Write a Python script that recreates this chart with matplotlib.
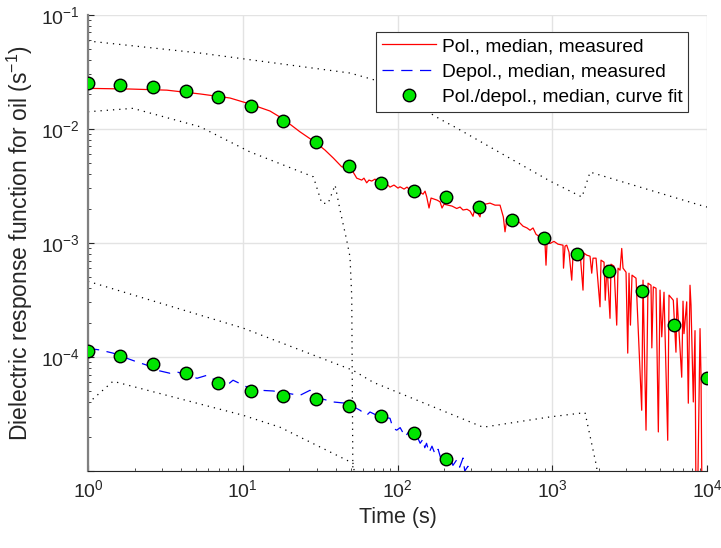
import numpy as np
import matplotlib.pyplot as plt
from matplotlib.lines import Line2D
from matplotlib.ticker import LogLocator, FuncFormatter, NullFormatter

plt.rcParams['font.family'] = ['Liberation Sans', 'DejaVu Sans']
plt.rcParams['mathtext.fontset'] = 'custom'
plt.rcParams['mathtext.rm'] = 'Liberation Sans'
plt.rcParams['mathtext.it'] = 'Liberation Sans:italic'

# curve fit points (same times for pol. and depol.)
fit_t = [1, 1.62, 2.64, 4.28, 6.95, 11.3, 18.3, 29.8, 48.3, 78.5,
         127, 207, 336, 546, 886, 1438, 2336, 3793, 6158, 10000]
pol_fit = [0.0254, 0.0243, 0.0232, 0.0216, 0.0190, 0.0159, 0.0117, 0.0076, 0.00473, 0.00336,
           0.00286, 0.0025, 0.00206, 0.00158, 0.00111, 0.000796, 0.000568, 0.000375, 0.000192, 6.6e-5]
depol_fit = [1.12e-4, 1.01e-4, 8.69e-5, 7.19e-5, 5.85e-5, 5.04e-5, 4.59e-5, 4.25e-5, 3.75e-5,
             3.03e-5, 2.17e-5, 1.27e-5]

# measured median, polarisation
pol_t = [1, 1.87, 3.23, 5.29, 8.27, 11.1, 15.0, 18.2, 23.4, 29.3, 34.0, 38.5, 43.6, 48.1, 50.8,
         54.5, 58.7, 60.7, 63.2, 65.4, 68.1, 71.6, 74.8, 77.1, 81.8, 85.5, 89.4, 94.9, 100.7,
         103.8, 110.2, 115.2, 120.4, 126, 133, 135.7, 139.8, 146.2, 150.6, 154.4, 159.8, 164.7,
         172.2, 180, 188.2, 193.9, 199.7, 212, 225, 241.3, 253.5, 265, 281.2, 294.1, 307.5, 312.2,
         326.4, 341.4, 350.2, 367.7, 396, 426.6, 459.5, 482.7, 495, 510, 549.5, 589.4, 618.9,
         647.1, 686.9, 718.3, 751, 785, 833.4, 875.4, 897.7, 911, 924.9, 967, 1026, 1089, 1173,
         1182, 1209, 1240, 1283, 1336, 1362, 1424, 1511, 1580, 1604, 1670, 1754, 1799, 1834,
         1918, 2035, 2065, 2160, 2200, 2258, 2361, 2397, 2506, 2609, 2660, 2741, 2811, 2866,
         2997, 3074, 3133, 3200, 3276, 3477, 3784, 3859, 4035, 4157, 4346, 4400, 4498, 4682,
         4846, 4971, 5100, 5274, 5572, 5681, 6056, 6300, 6400, 6863, 6997, 7100, 7392, 7570,
         7765, 7882, 8155, 8364, 8490, 8748, 9013, 9148, 9286]
pol_med = [0.0226, 0.0223, 0.0218, 0.0202, 0.0186, 0.0165, 0.0143, 0.0122, 0.00941, 0.00764,
           0.0065, 0.00553, 0.00464, 0.00457, 0.00434, 0.00369, 0.00355, 0.00369, 0.00336,
           0.00355, 0.00348, 0.00362, 0.00334, 0.00336, 0.00314, 0.00327, 0.00308, 0.00321,
           0.00302, 0.0031, 0.00296, 0.00308, 0.0029, 0.00302, 0.0028, 0.00296, 0.00278,
           0.00267, 0.00284, 0.00253, 0.00202, 0.00247, 0.00242, 0.00237, 0.00229, 0.00202,
           0.00218, 0.00214, 0.0021, 0.002, 0.00206, 0.00194, 0.00197, 0.0019, 0.00171, 0.00187,
           0.00186, 0.00169, 0.00222, 0.00218, 0.00223, 0.00214, 0.00214, 0.00169, 0.00125,
           0.00165, 0.00161, 0.00158, 0.00149, 0.0014, 0.00135, 0.00129, 0.00135, 0.00119,
           0.00112, 0.00106, 0.000988, 0.000637, 0.000994, 0.000988, 0.00103, 0.000974,
           0.000954, 0.0006, 0.000936, 0.000954, 0.000829, 0.000471, 0.00078, 0.000863,
           0.000829, 0.000385, 0.000812, 0.00078, 0.000764, 0.000542, 0.000734, 0.000734,
           0.000275, 0.000705, 0.000677, 0.000314, 0.000637, 0.000218, 0.00065, 0.000625,
           0.00019, 0.0006, 0.000576, 0.000893, 0.0006, 0.000553, 0.000108, 0.000542, 0.00019,
           0.000521, 0.00049, 3.41e-5, 0.000471, 2.28e-5, 0.000443, 0.000425, 0.00012, 0.000411,
           0.0004, 2.2e-5, 0.000385, 0.00015, 0.000369, 1.86e-5, 0.000348, 0.000314, 0.00011,
           0.000327, 6.64e-5, 0.000308, 0.00016, 0.000304, 3.93e-5, 0.000425, 0.000284, 4.03e-5,
           0.00017, 5e-6, 1.02e-5, 0.000177, 6.64e-5, 5e-6]

# measured median, depolarisation
depol_t = [1, 1.195, 1.45, 1.684, 2.073, 2.406, 2.792, 3.388, 3.76, 5.064, 5.875, 7.128, 7.911,
           8.65, 10.65, 12.93, 15.69, 21.12, 23.44, 27.2, 31.56, 38.3, 47.2, 57.2, 63.2, 66.4,
           77.1, 89.4, 93.5, 98.8, 104, 112, 118, 125, 133, 140, 146, 150, 154, 160, 167, 175,
           183, 190, 200, 208, 218, 228, 241, 252, 265, 272, 285, 300, 307.6]
depol_med = [1.19e-4, 1.15e-4, 1.08e-4, 1.0e-4, 9.04e-5, 8.46e-5, 7.64e-5, 7.19e-5, 7.38e-5,
             6.5e-5, 6.91e-5, 5.88e-5, 5.65e-5, 6.25e-5, 5.45e-5, 5.1e-5, 5.03e-5, 4.71e-5,
             4.61e-5, 5.1e-5, 4.34e-5, 4.03e-5, 3.92e-5, 3.41e-5, 3.08e-5, 3.29e-5, 2.98e-5,
             2.9e-5, 2.37e-5, 2.28e-5, 2.4e-5, 2.0e-5, 2.2e-5, 1.9e-5, 2.05e-5, 1.75e-5, 1.9e-5,
             1.6e-5, 1.75e-5, 1.45e-5, 1.65e-5, 1.4e-5, 1.55e-5, 1.3e-5, 1.45e-5, 1.2e-5,
             1.35e-5, 1.12e-5, 1.25e-5, 1.08e-5, 1.3e-5, 1.0e-5, 1.1e-5, 9.5e-6, 9e-6]

# percentile bounds (dotted)
pol_hi_t = [1, 5.29, 49.3, 71.6, 188, 235, 967, 1556, 1755, 9015, 10000]
pol_hi = [0.0588, 0.0461, 0.0308, 0.0267, 0.01216, 0.01035, 0.00348, 0.00252, 0.00417, 0.00214, 0.00206]
pol_lo_t = [1, 1.95, 5.29, 11.1, 28.6, 32.4, 35.6, 39.5, 42.5, 46.9, 49.3, 50.6, 52]
pol_lo = [0.0141, 0.0151, 0.01042, 0.00628, 0.00379, 0.00222, 0.00222, 0.00321, 0.00194,
          0.00106, 0.000754, 0.000336, 1e-6]
depol_hi_t = [1, 10.04, 51.5, 69.5, 357, 967, 1628, 1938, 2100]
depol_hi = [4.6e-4, 1.79e-4, 7.64e-5, 6.0e-5, 2.42e-5, 2.98e-5, 3.25e-5, 1.08e-5, 1e-6]
depol_lo_t = [1, 1.45, 10.04, 17.4, 51.5, 70]
depol_lo = [3.92e-5, 6.12e-5, 3.08e-5, 2.42e-5, 1.17e-5, 1e-6]

fig = plt.figure(figsize=(7.21, 5.48), dpi=100)
ax = fig.add_axes([0.1221, 0.1405, 0.8585, 0.8327])

dot = (0, (1, 4))
for tt, vv in [(pol_hi_t, pol_hi), (pol_lo_t, pol_lo), (depol_hi_t, depol_hi), (depol_lo_t, depol_lo)]:
    ax.plot(tt, vv, color='black', lw=0.9, linestyle=dot)

ax.plot(pol_t, pol_med, color='#ff0000', lw=0.9)
ax.plot(depol_t, depol_med, color='#0000ff', lw=0.9, linestyle=(0, (9, 6)))
ax.plot(fit_t, pol_fit, 'o', ms=9, mfc='#00e600', mec='black', mew=1.0, zorder=5)
ax.plot(fit_t[:len(depol_fit)], depol_fit, 'o', ms=9, mfc='#00e600', mec='black', mew=1.0, zorder=5)

ax.set_xscale('log')
ax.set_yscale('log')
ax.set_xlim(1, 1e4)
ax.set_ylim(1e-5, 1e-1)

ax.xaxis.set_major_locator(LogLocator(base=10, numticks=10))
ax.yaxis.set_major_locator(LogLocator(base=10, numticks=10))
ax.xaxis.set_minor_locator(LogLocator(base=10, subs=np.arange(2, 10), numticks=20))
ax.yaxis.set_minor_locator(LogLocator(base=10, subs=np.arange(2, 10), numticks=20))
ax.xaxis.set_minor_formatter(NullFormatter())
ax.yaxis.set_minor_formatter(NullFormatter())


def dec_label(v, pos):
    if v < 5e-5:
        return ''
    return r'$\mathdefault{10^{%d}}$' % round(np.log10(v))


ax.xaxis.set_major_formatter(FuncFormatter(dec_label))
ax.yaxis.set_major_formatter(FuncFormatter(dec_label))

ax.grid(True, which='major', color='#e3e3e3', lw=1.0)
ax.set_axisbelow(True)
ax.spines['top'].set_visible(False)
ax.spines['right'].set_visible(False)
ax.spines['left'].set_color('#808080')
ax.spines['left'].set_linewidth(1.6)
ax.spines['bottom'].set_color('#262626')
ax.spines['bottom'].set_linewidth(0.8)
ax.tick_params(which='both', direction='in', colors='#262626', labelsize=14, top=False, right=False)
ax.tick_params(which='major', length=4, width=0.8, pad=6)
ax.tick_params(which='minor', length=2.3, width=0.6)

ax.set_xlabel('Time (s)', fontsize=15.5, color='#262626', labelpad=4)
ax.set_ylabel(r'Dielectric response function for oil (s$^{\mathdefault{-1}}$)', fontsize=16.5,
              color='#262626', labelpad=4)

handles = [Line2D([], [], color='#ff0000', lw=0.9),
           Line2D([], [], color='#0000ff', lw=0.9, linestyle=(0, (9, 6))),
           Line2D([], [], linestyle='none', marker='o', ms=9, mfc='#00e600', mec='black', mew=1.0)]
labels = ['Pol., median, measured', 'Depol., median, measured', 'Pol./depol., median, curve fit']
leg = ax.legend(handles, labels, loc='upper right', bbox_to_anchor=(0.9693, 0.962), borderaxespad=0,
                fontsize=13.8, fancybox=False, framealpha=1, edgecolor='#333333',
                handlelength=2.8, handletextpad=0.3, labelspacing=0.42, borderpad=0.3)
leg.get_frame().set_linewidth(0.8)

fig.savefig('out.png', dpi=100)
